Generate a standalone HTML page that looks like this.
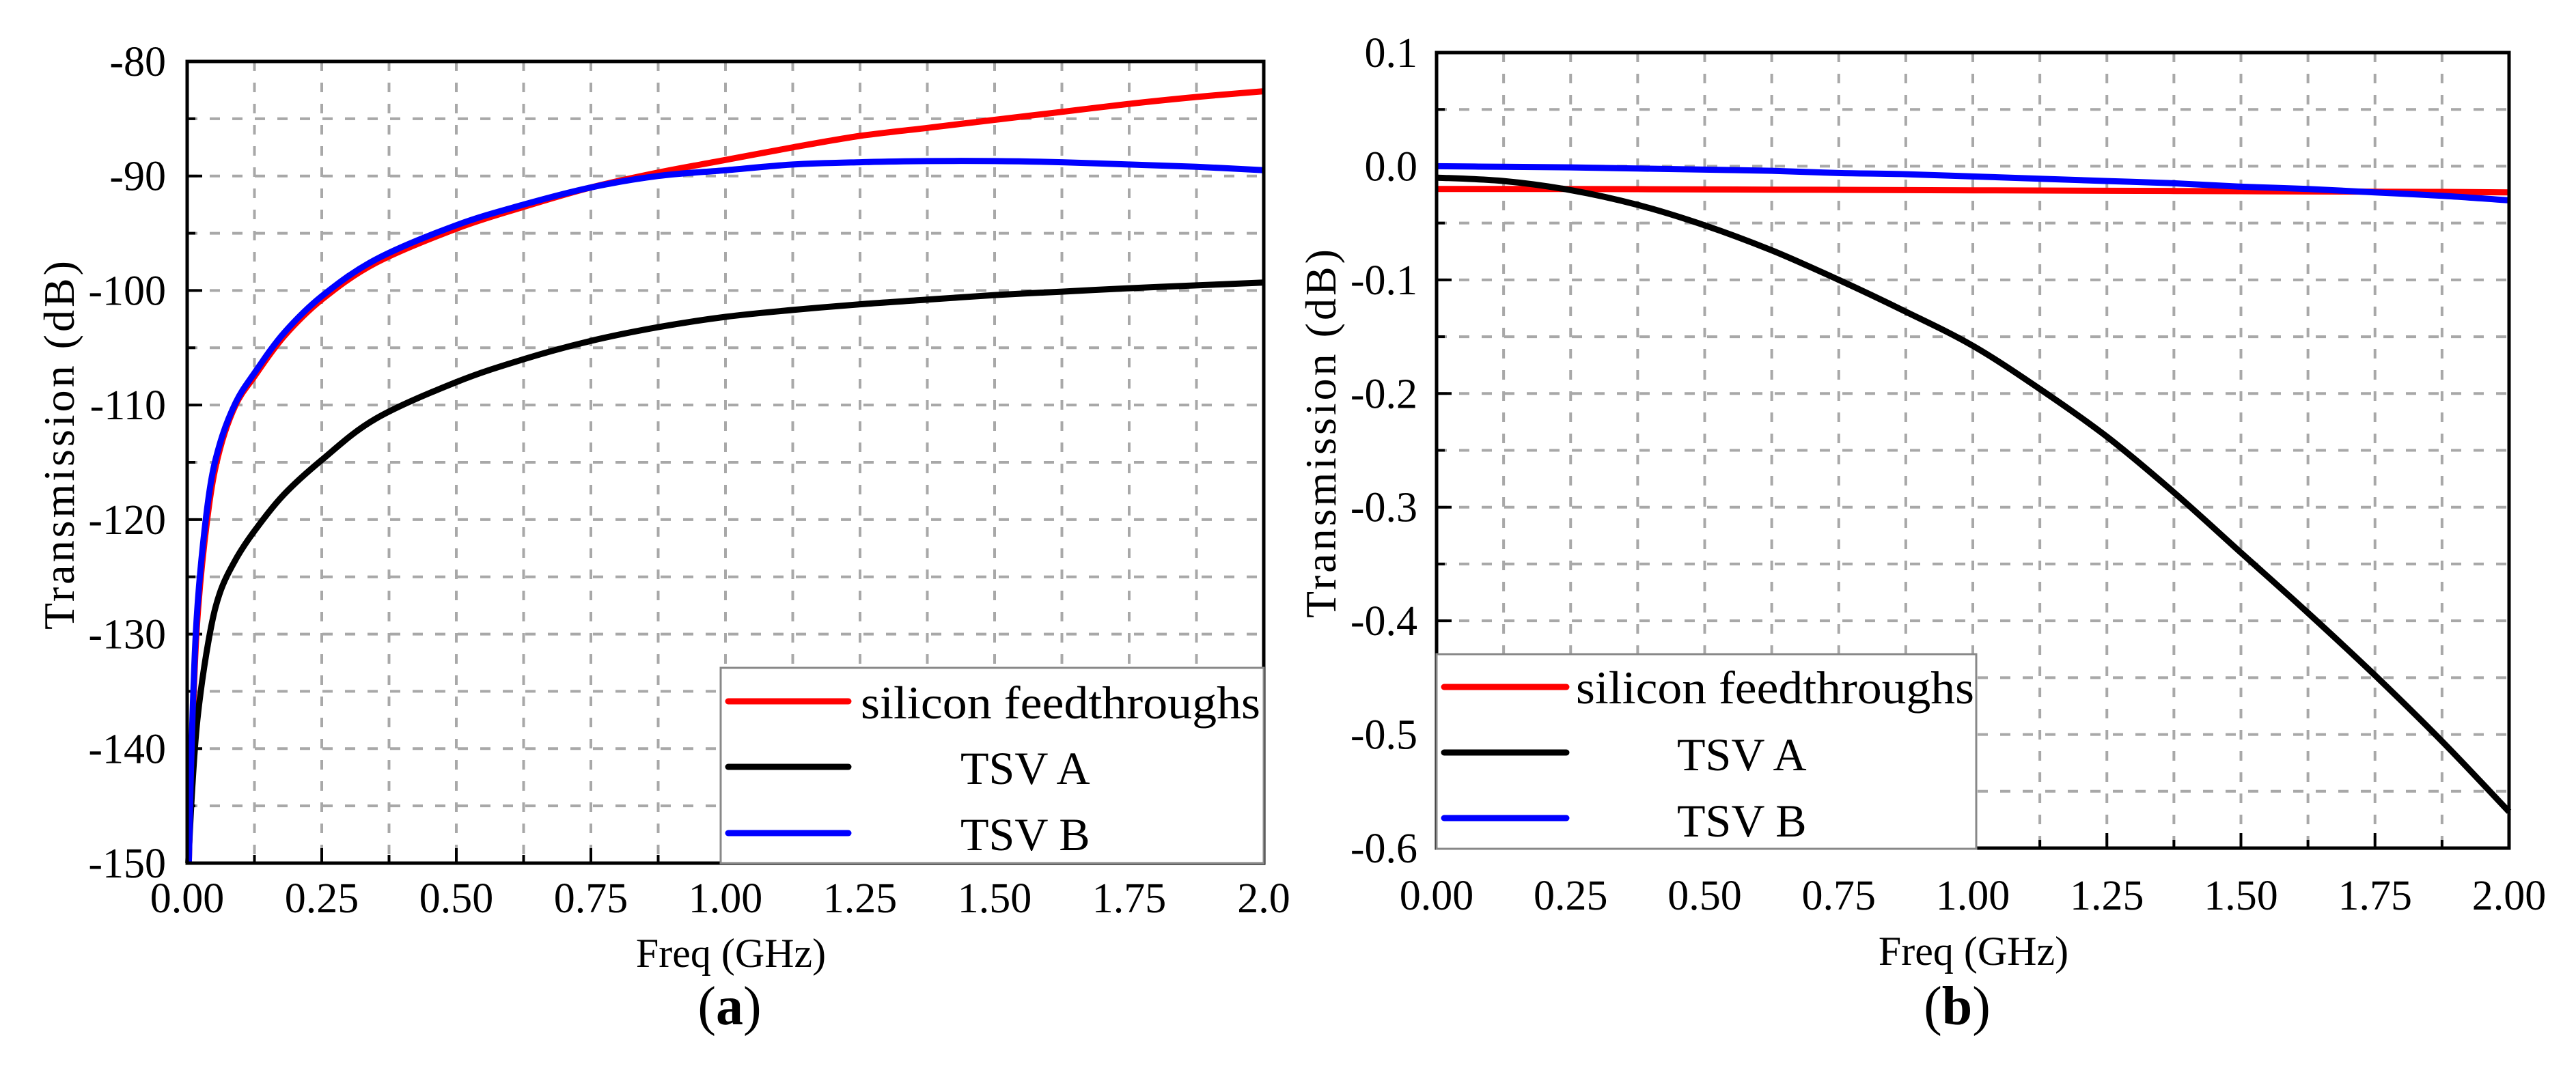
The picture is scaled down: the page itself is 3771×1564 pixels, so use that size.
<!DOCTYPE html>
<html><head><meta charset="utf-8"><style>
html,body{margin:0;padding:0;background:#fff;}
svg{display:block;}
text{font-family:"Liberation Serif",serif;fill:#000;}
</style></head><body>
<svg id="fig" width="3771" height="1564" viewBox="0 0 3771 1564" xmlns="http://www.w3.org/2000/svg">
<rect x="0" y="0" width="3771" height="1564" fill="#fff"/>
<g id="pa"></g>
<g id="pb"></g>
</svg>
<script>
// ---- Chart (a) data ----
const aFreq = [0.003,0.01,0.02,0.04,0.06,0.09,0.125,0.18,0.25,0.35,0.5,0.625,0.75,0.875,1.0,1.125,1.25,1.375,1.5,1.625,1.75,1.875,2.0];
const aSilicon = [-150,-138,-128,-119,-114,-110,-107.5,-104,-100.8,-97.6,-94.6,-92.7,-91.0,-89.7,-88.6,-87.5,-86.5,-85.8,-85.1,-84.4,-83.7,-83.1,-82.6];
const aTsvB = [-150,-137,-127,-118,-113.5,-109.8,-107.2,-103.7,-100.5,-97.3,-94.3,-92.5,-91.0,-90.0,-89.5,-89.0,-88.8,-88.7,-88.7,-88.8,-89.0,-89.2,-89.5];
const aFreqA = [0.002,0.01,0.02,0.04,0.06,0.09,0.125,0.18,0.25,0.35,0.5,0.625,0.75,0.875,1.0,1.125,1.25,1.375,1.5,1.625,1.75,1.875,2.0];
const aTsvA = [-150,-143,-137,-130.5,-126.5,-123.5,-121,-117.8,-114.8,-111.2,-108,-106,-104.4,-103.2,-102.3,-101.7,-101.2,-100.8,-100.4,-100.1,-99.8,-99.55,-99.3];
const aYTicks = [-80,-90,-100,-110,-120,-130,-140,-150];
const aXTicks = ["0.00","0.25","0.50","0.75","1.00","1.25","1.50","1.75","2.0"];
// ---- Chart (b) data ----
const bFreq = [0,0.125,0.25,0.375,0.5,0.625,0.75,0.875,1.0,1.125,1.25,1.375,1.5,1.625,1.75,1.875,2.0];
const bSilicon = [-0.020,-0.020,-0.020,-0.0202,-0.0204,-0.0206,-0.0208,-0.021,-0.0212,-0.0214,-0.0216,-0.0218,-0.022,-0.0222,-0.0224,-0.0226,-0.023];
const bTsvA = [-0.010,-0.013,-0.021,-0.034,-0.052,-0.074,-0.100,-0.128,-0.158,-0.196,-0.238,-0.287,-0.340,-0.393,-0.448,-0.506,-0.568];
const bTsvB = [0,-0.0005,-0.001,-0.002,-0.003,-0.004,-0.006,-0.007,-0.009,-0.011,-0.013,-0.015,-0.018,-0.020,-0.023,-0.026,-0.030];
const bYTicks = ["0.1","0.0","-0.1","-0.2","-0.3","-0.4","-0.5","-0.6"];
const bXTicks = ["0.00","0.25","0.50","0.75","1.00","1.25","1.50","1.75","2.00"];
const legendNames = ["silicon feedthroughs","TSV A","TSV B"];

const NS="http://www.w3.org/2000/svg";
function mk(parent,tag,attrs,txt){const e=document.createElementNS(NS,tag);for(const k in attrs)e.setAttribute(k,attrs[k]);if(txt!==undefined)e.textContent=txt;parent.appendChild(e);return e;}
function smoothPath(pts){
  let d='M'+pts[0][0].toFixed(1)+' '+pts[0][1].toFixed(1);
  for(let i=0;i<pts.length-1;i++){
    const p0=pts[Math.max(0,i-1)],p1=pts[i],p2=pts[i+1],p3=pts[Math.min(pts.length-1,i+2)];
    const c1x=p1[0]+(p2[0]-p0[0])/6,c1y=p1[1]+(p2[1]-p0[1])/6;
    const c2x=p2[0]-(p3[0]-p1[0])/6,c2y=p2[1]-(p3[1]-p1[1])/6;
    d+=` C${c1x.toFixed(1)} ${c1y.toFixed(1)} ${c2x.toFixed(1)} ${c2y.toFixed(1)} ${p2[0].toFixed(1)} ${p2[1].toFixed(1)}`;
  }
  return d;
}

function drawChart(g, cfg){
  const {L,R,T,B,ymin,ymax,yStepMinor,yStepMajor}=cfg;
  const sx=v=>L+(v-0)/(2-0)*(R-L);
  const sy=v=>T+(ymax-v)/(ymax-ymin)*(B-T);
  for(let i=1;i<16;i++){
    const x=sx(i*0.125);
    const l=mk(g,'line',{x1:x,y1:T,x2:x,y2:B,stroke:'#a8a8a8','stroke-width':4,'stroke-dasharray':'14 17'});
    
    
  }
  const nY=Math.round((ymax-ymin)/yStepMinor);
  for(let i=1;i<nY;i++){
    const y=sy(ymax-i*yStepMinor);
    const l=mk(g,'line',{x1:L,y1:y,x2:R,y2:y,stroke:'#a8a8a8','stroke-width':4,'stroke-dasharray':'15 18'});
    
    
  }
  for(let i=0;i<=16;i++){
    const x=sx(i*0.125);const len=i%2?12:22;
    const t=mk(g,'line',{x1:x,y1:B,x2:x,y2:B-len,stroke:'#000','stroke-width':4});
    
    
  }
  for(let i=0;i<=nY;i++){
    const y=sy(ymax-i*yStepMinor);const len=i%2?12:22;
    const t=mk(g,'line',{x1:L,y1:y,x2:L+len,y2:y,stroke:'#000','stroke-width':4});
    
    
  }
  cfg.series.forEach(s=>{
    const pts=s.xs.map((x,i)=>[sx(x),sy(s.ys[i])]);
    const p=mk(g,'path',{d:smoothPath(pts),fill:'none',stroke:s.color,'stroke-width':9,'stroke-linejoin':'round','stroke-linecap':'butt'});
    
    
  });
  const f=mk(g,'rect',{x:L,y:T,width:R-L,height:B-T,fill:'none',stroke:'#000','stroke-width':5});
  
  
  cfg.yLabels.forEach((lab,i)=>{
    const y=sy(ymax-i*yStepMajor);
    const t=mk(g,'text',{x:cfg.yLabelX,y:y+21,'text-anchor':'end','font-size':62},lab);
    
    
  });
  cfg.xLabels.forEach((lab,i)=>{
    const x=sx(i*0.25);
    const t=mk(g,'text',{x:x,y:cfg.xLabelY,'text-anchor':'middle','font-size':62},lab);
    
    
  });
  const xt=mk(g,'text',{x:cfg.xTitleX,y:cfg.xTitleY,'text-anchor':'middle','font-size':60},'Freq (GHz)');
  
  
  const yt=mk(g,'text',{x:0,y:0,'text-anchor':'middle','font-size':64,textLength:540,lengthAdjust:'spacing',transform:`translate(${cfg.yTitleX},${cfg.yTitleY}) rotate(-90)`},'Transmission  (dB)');
  
  
  const cap=mk(g,'text',{x:cfg.capX,y:1500,'text-anchor':'middle','font-size':80});
  
  
  mk(cap,'tspan',{},'(');mk(cap,'tspan',{'font-weight':'bold'},cfg.cap);mk(cap,'tspan',{},')');
  const lg=cfg.legend;
  const box=mk(g,'rect',{x:lg.x,y:lg.y,width:lg.w,height:lg.h,fill:'#fff',stroke:'#888','stroke-width':3});
  
  
  const cols=['#ff0000','#000000','#0000ff'];
  legendNames.forEach((n,i)=>{
    const ly=lg.lineY[i];
    const ln=mk(g,'line',{x1:lg.lx1,y1:ly,x2:lg.lx2,y2:ly,stroke:cols[i],'stroke-width':9,'stroke-linecap':'round'});
    
    
    const attrs=i==0?{x:lg.tx0,y:lg.baseY[i],'font-size':68,textLength:lg.tw0,lengthAdjust:'spacingAndGlyphs'}:{x:lg.tx1,y:lg.baseY[i],'font-size':68};
    const t=mk(g,'text',attrs,n);
    
    
  });
}

drawChart(document.getElementById('pa'),{
  L:274,R:1850,T:90,B:1264,ymin:-150,ymax:-80,yStepMinor:5,yStepMajor:10,
  yLabels:aYTicks.map(String),xLabels:aXTicks,yLabelX:243,xLabelY:1336,
  xTitleX:1070,xTitleY:1416,yTitleX:108,yTitleY:652,capX:1068,cap:'a',
  series:[
    {name:'silicon-feedthroughs-line',color:'#ff0000',xs:aFreq,ys:aSilicon},
    {name:'tsv-a-line',color:'#000000',xs:aFreqA,ys:aTsvA},
    {name:'tsv-b-line',color:'#0000ff',xs:aFreq,ys:aTsvB}],
  legend:{x:1055,y:978,w:795,h:286,lx1:1066,lx2:1242,lineY:[1027,1123,1220],tx0:1260,tw0:585,tx1:1406,baseY:[1052,1148,1245]}
});
drawChart(document.getElementById('pb'),{
  L:2103,R:3673,T:77,B:1242,ymin:-0.6,ymax:0.1,yStepMinor:0.05,yStepMajor:0.1,
  yLabels:bYTicks,xLabels:bXTicks,yLabelX:2075,xLabelY:1332,
  xTitleX:2889,xTitleY:1413,yTitleX:1955,yTitleY:635,capX:2865,cap:'b',
  series:[
    {name:'silicon-feedthroughs-line',color:'#ff0000',xs:bFreq,ys:bSilicon},
    {name:'tsv-a-line',color:'#000000',xs:bFreq,ys:bTsvA},
    {name:'tsv-b-line',color:'#0000ff',xs:bFreq,ys:bTsvB}],
  legend:{x:2103,y:958,w:790,h:285,lx1:2114,lx2:2293,lineY:[1006,1102,1198],tx0:2307,tw0:583,tx1:2455,baseY:[1030,1128,1225]}
});
</script>
</body></html>
